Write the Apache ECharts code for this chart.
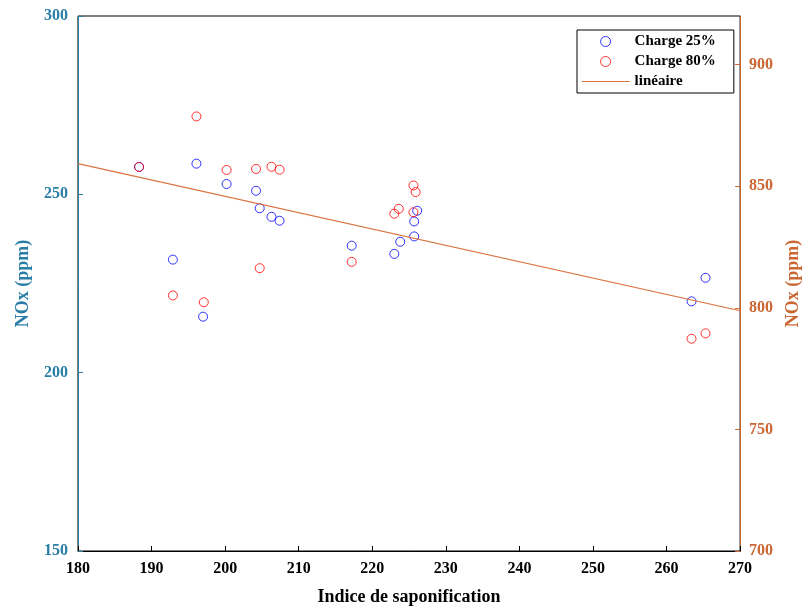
<!DOCTYPE html>
<html>
<head>
<meta charset="utf-8">
<script src="https://cdn.jsdelivr.net/npm/echarts@6/dist/echarts.min.js"></script>
<style>html,body{margin:0;padding:0;background:#fff;}#c{width:810px;height:611px;}</style>
</head>
<body>
<div id="c"></div>
<script>
// Charge 25% (left axis)
const x25 = [188.3, 192.9, 196.1, 197.0, 200.2, 204.2, 204.7, 206.3, 207.4, 217.2, 223.0, 223.8, 225.7, 225.7, 226.1, 263.4, 265.3];
const y25 = [257.7, 231.7, 258.6, 215.7, 252.9, 251.0, 246.1, 243.7, 242.6, 235.6, 233.3, 236.7, 238.2, 242.4, 245.4, 220.0, 226.6];
// Charge 80% (right axis)
const x80 = [188.3, 192.9, 196.1, 197.1, 200.2, 204.2, 204.7, 206.3, 207.4, 217.2, 223.0, 223.6, 225.6, 225.9, 225.6, 263.4, 265.3];
const y80 = [857.9, 805.1, 878.7, 802.3, 856.7, 857.1, 816.3, 858.0, 856.8, 818.9, 838.7, 840.7, 850.3, 847.6, 839.3, 787.3, 789.5];
// linear fit (right axis)
const xLin = [180, 270];
const yLin = [859.3, 798.8];

const xTicks = {min: 180, max: 270, interval: 10};
const leftTicks = {min: 150, max: 300, interval: 50};
const rightTicks = {min: 700, max: 920, interval: 50};

const cLeft = '#2a7ea6', cRight = '#cc6633', cLine = '#d9743f';
const font = 'Liberation Serif';

const zip = (a, b) => a.map((v, i) => [v, b[i]]);
const chart = echarts.init(document.getElementById('c'));
chart.setOption({
  animation: false,
  backgroundColor: '#fff',
  textStyle: {fontFamily: font},
  grid: {left: 78, right: 69, top: 16, bottom: 59, show: true, borderColor: '#000', borderWidth: 1},
  legend: {
    orient: 'vertical', left: 577, top: 30,
    padding: [4, 18, 4, 4], itemGap: 5,
    itemWidth: 48, itemHeight: 10,
    borderColor: '#000', borderWidth: 1, backgroundColor: '#fff',
    textStyle: {fontFamily: font, fontWeight: 'bold', fontSize: 15, color: '#000'},
    data: [
      {name: 'Charge 25%', icon: 'circle', itemStyle: {color: 'transparent', borderColor: '#0000ff', borderWidth: 1}},
      {name: 'Charge 80%', icon: 'circle', itemStyle: {color: 'transparent', borderColor: '#ff0000', borderWidth: 1}},
      {name: 'linéaire', itemStyle: {color: 'transparent', borderColor: 'transparent', borderWidth: 0}, lineStyle: {color: cLine, width: 1.2}}
    ]
  },
  xAxis: {
    type: 'value', min: xTicks.min, max: xTicks.max, interval: xTicks.interval,
    name: 'Indice de saponification', nameLocation: 'middle', nameGap: 37,
    nameTextStyle: {fontFamily: font, fontWeight: 'bold', fontSize: 18, color: '#000'},
    axisLine: {lineStyle: {color: '#000'}},
    axisTick: {inside: true, length: 5, lineStyle: {color: '#000'}},
    axisLabel: {fontFamily: font, fontWeight: 'bold', fontSize: 16, color: '#000', margin: 10},
    splitLine: {show: false}
  },
  yAxis: [{
    type: 'value', position: 'left', min: leftTicks.min, max: leftTicks.max, interval: leftTicks.interval,
    name: 'NOx (ppm)', nameLocation: 'middle', nameGap: 46,
    nameTextStyle: {fontFamily: font, fontWeight: 'bold', fontSize: 18, color: cLeft},
    axisLine: {show: true, lineStyle: {color: cLeft}},
    axisTick: {show: true, inside: true, length: 5, lineStyle: {color: cLeft}},
    axisLabel: {fontFamily: font, fontWeight: 'bold', fontSize: 16, color: cLeft, margin: 10},
    splitLine: {show: false}
  }, {
    type: 'value', position: 'right', min: rightTicks.min, max: rightTicks.max, interval: rightTicks.interval,
    name: 'NOx (ppm)', nameLocation: 'middle', nameGap: 42, nameRotate: 90,
    nameTextStyle: {fontFamily: font, fontWeight: 'bold', fontSize: 18, color: cRight},
    axisLine: {show: true, lineStyle: {color: cRight}},
    axisTick: {show: true, inside: true, length: 5, lineStyle: {color: cRight}},
    axisLabel: {fontFamily: font, fontWeight: 'bold', fontSize: 16, color: cRight, margin: 9, showMaxLabel: false},
    splitLine: {show: false}
  }],
  series: [{
    name: 'Charge 25%', type: 'scatter', yAxisIndex: 0, symbol: 'circle', symbolSize: 9,
    itemStyle: {color: 'transparent', borderColor: '#0000ff', borderWidth: 1},
    data: zip(x25, y25)
  }, {
    name: 'Charge 80%', type: 'scatter', yAxisIndex: 1, symbol: 'circle', symbolSize: 9,
    itemStyle: {color: 'transparent', borderColor: '#ff0000', borderWidth: 1},
    data: zip(x80, y80)
  }, {
    name: 'linéaire', type: 'line', yAxisIndex: 1, symbol: 'none',
    lineStyle: {color: cLine, width: 1.2}, itemStyle: {color: cLine},
    data: zip(xLin, yLin)
  }]
});
</script>
</body>
</html>
